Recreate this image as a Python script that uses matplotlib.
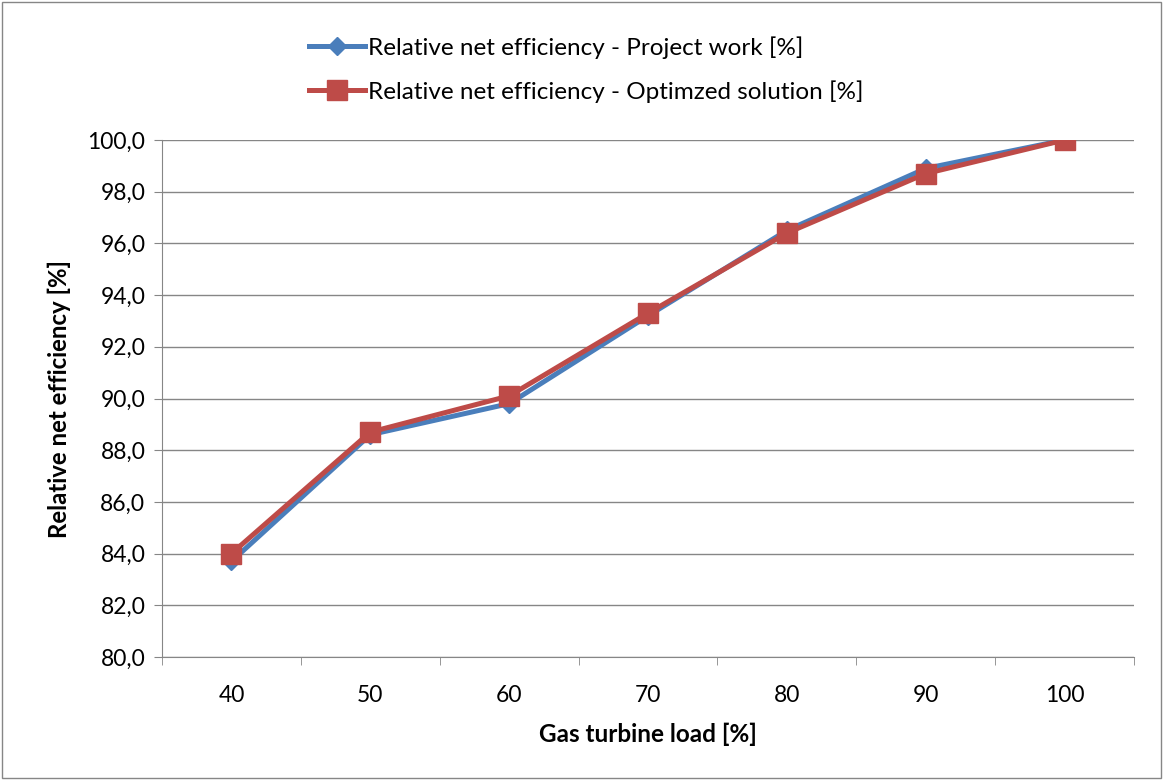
import matplotlib as mpl
mpl.use('Agg')
import matplotlib.pyplot as plt
from matplotlib.patches import Rectangle
from matplotlib.ticker import FixedLocator, FuncFormatter

plt.rcParams['font.family'] = ['Lato', 'DejaVu Sans']

loads = [40, 50, 60, 70, 80, 90, 100]
project_work = [83.7, 88.6, 89.8, 93.2, 96.5, 98.9, 100.0]
optimized = [84.0, 88.7, 90.1, 93.3, 96.4, 98.7, 100.0]

fig = plt.figure(figsize=(11.63, 7.8), dpi=100)
ax = fig.add_axes([162/1163, 1-657/780, (1134-162)/1163, (657-140)/780])

x = list(range(len(loads)))
ax.plot(x, project_work, color='#4A7EBB', lw=3.6, marker='D', ms=9,
        label='Relative net efficiency - Project work [%]')
ax.plot(x, optimized, color='#BE4B48', lw=3.6, marker='s', ms=15,
        label='Relative net efficiency - Optimzed solution [%]')

ax.set_xlim(-0.5, len(loads) - 0.5)
ax.set_ylim(80, 100)
ax.set_yticks(range(80, 101, 2))
ax.yaxis.set_major_formatter(FuncFormatter(lambda v, p: f'{v:.1f}'.replace('.', ',')))
ax.set_xticks(x)
ax.set_xticklabels([str(v) for v in loads])
ax.xaxis.set_minor_locator(FixedLocator([i + 0.5 for i in range(-1, len(loads))]))
ax.tick_params(axis='x', which='major', length=0, labelsize=16.5, pad=20)
ax.tick_params(axis='x', which='minor', length=6, color='#868686', direction='out')
ax.tick_params(axis='y', length=6, color='#868686', labelsize=16.5, pad=6)

ax.grid(axis='y', color='#868686', lw=1)
ax.set_axisbelow(True)
for side in ['top', 'right']:
    ax.spines[side].set_visible(False)
for side in ['left', 'bottom']:
    ax.spines[side].set_color('#868686')

ax.set_xlabel('Gas turbine load [%]', fontsize=17.5, fontweight='bold', labelpad=12)
ax.set_ylabel('Relative net efficiency [%]', fontsize=17.3, fontweight='bold', labelpad=12)

fig.legend(loc='upper left', bbox_to_anchor=(287/1163, 1-14/780), frameon=False,
           fontsize=17.5, handlelength=2.3, labelspacing=0.9, handletextpad=0.15)

fig.patches.append(Rectangle((0.002, 0.002), 0.996, 0.996, transform=fig.transFigure,
                             fill=False, edgecolor='#868686', lw=1))

plt.savefig('out.png', dpi=100)
